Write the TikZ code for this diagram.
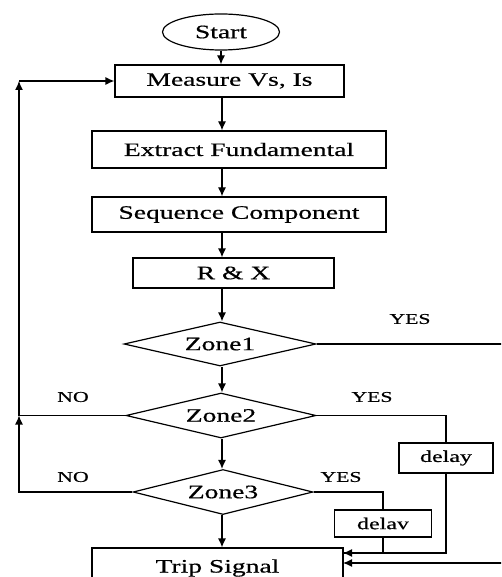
\documentclass[tikz,border=0pt]{standalone}
\usepackage{fontspec}
\setmainfont{Liberation Serif}[FakeStretch=1.45, FakeBold=0.6]
\usetikzlibrary{shapes.geometric, arrows.meta}

\begin{document}
\begin{tikzpicture}[x=1pt, y=-1pt, line width=1.2pt,
  blk/.style={draw, rectangle, inner sep=0pt, font=\fontsize{19}{22}\selectfont},
  dec/.style={draw, diamond, aspect=4, inner sep=0pt, font=\fontsize{19}{22}\selectfont},
  dly/.style={draw, rectangle, inner sep=0pt, font=\fontsize{16.5}{20}\selectfont},
  lbl/.style={font=\fontsize{15}{18}\selectfont},
  arr/.style={-{Latex[length=9pt,width=8pt]}}]
\clip (0,0) rectangle (501,577);
\useasboundingbox (0,0) rectangle (501,577);
% blocks
\node[draw, ellipse, inner sep=0pt, minimum width=117pt, minimum height=36pt, font=\fontsize{19}{22}\selectfont] (start) at (221,32) {Start};
\node[blk, minimum width=229pt, minimum height=32pt] (measure) at (229.5,81) {Measure Vs, Is};
\node[blk, minimum width=294pt, minimum height=37pt] (extract) at (239,149.5) {Extract Fundamental};
\node[blk, minimum width=294pt, minimum height=35pt] (seqcomp) at (239,214.5) {Sequence Component};
\node[blk, minimum width=201pt, minimum height=30pt] (rx) at (233.5,273) {R \& X};
\node[dec, minimum width=192pt, minimum height=44pt] (zone1) at (220,344) {Zone1};
\node[dec, minimum width=190pt, minimum height=45pt] (zone2) at (221,415.5) {Zone2};
\node[dec, minimum width=180pt, minimum height=45pt] (zone3) at (223,492) {Zone3};
\node[dly, minimum width=94pt, minimum height=30pt] (delay2) at (446,458) {delay};
\node[dly, minimum width=97pt, minimum height=27pt] (delay3) at (383,523.5) {delav};
\node[blk, minimum width=251pt, minimum height=40pt] (trip) at (217.5,568) {Trip Signal};
% labels
\foreach \x/\y/\txt [count=\i] in {410/319/YES, 73/397/NO, 372/397/YES, 73/477/NO, 341/477/YES}{
\node[lbl] (lab\i) at (\x,\y) {\txt};
}
% main flow
\coordinate (col) at (222,0);
\draw[arr] (start) -- (measure.north -| start);
\draw[arr] (measure.south -| col) -- (extract.north -| col);
\draw[arr] (extract.south -| col) -- (seqcomp.north -| col);
\draw[arr] (seqcomp.south -| col) -- (rx.north -| col);
\draw[arr] (rx.south -| col) -- (zone1.north -| col);
\draw[arr] (zone1.south -| col) -- (zone2.north -| col);
\draw[arr] (zone2.south -| col) -- (zone3.north -| col);
\draw[arr] (zone3.south -| col) -- (trip.north -| col);
% NO branches
\coordinate (fbtop) at (19,81);
\coordinate (fbmid) at (19,415.5);
\draw[arr] (zone2.west) -| (fbtop);
\draw[arr] (fbtop) -- (measure.west);
\draw[arr] (zone3.west) -| (fbmid);
% YES branches
\coordinate (inA) at (343,553);
\coordinate (inB) at (343,563);
\coordinate (farR) at (506,344);
\draw[arr] (zone1.east) -- (farR) |- (inB);
\draw (zone2.east) -| (delay2.north);
\draw[arr] (delay2.south) |- (inA);
\draw (zone3.east) -| (delay3.north);
\draw (delay3.south) |- (inA);
\end{tikzpicture}
\end{document}
